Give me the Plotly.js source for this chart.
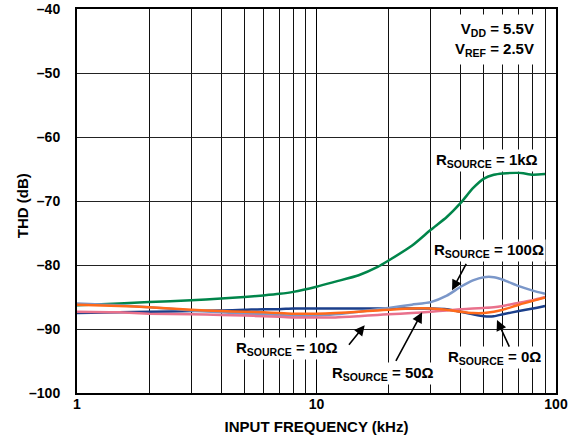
<!DOCTYPE html>
<html>
<head>
<meta charset="utf-8">
<script src="https://cdn.plot.ly/plotly-3.0.1.min.js"></script>
<style>html,body{margin:0;padding:0;background:#fff}#chart{width:577px;height:438px}</style>
</head>
<body>
<div id="chart"></div>
<script>
// Frequencies (kHz)
const freq = [1, 1.5, 2, 3, 4, 5, 6, 7, 8, 10, 12, 15, 18, 20, 25, 30, 35, 40, 45, 50, 55, 60, 70, 80, 90];
// THD (dB) for each source resistance
const thd1k   = [-86.3, -86.0, -85.8, -85.5, -85.25, -85.0, -84.75, -84.5, -84.2, -83.4, -82.6, -81.6, -80.3, -79.3, -77.0, -74.5, -72.5, -70.3, -68.0, -66.5, -65.9, -65.7, -65.6, -65.9, -65.8];
const thd100  = [-86.0, -86.3, -86.6, -87.1, -87.4, -87.6, -87.7, -87.8, -87.9, -87.9, -87.7, -87.3, -86.9, -86.7, -86.2, -85.8, -84.8, -83.4, -82.4, -81.9, -81.9, -82.3, -83.3, -84.0, -84.5];
const thd50   = [-86.2, -86.4, -86.6, -87.0, -87.2, -87.3, -87.4, -87.5, -87.6, -87.6, -87.5, -87.3, -87.1, -87.0, -86.8, -86.8, -87.0, -87.3, -87.5, -87.5, -87.3, -87.0, -86.2, -85.6, -85.1];
const thd10   = [-87.3, -87.4, -87.6, -87.7, -87.8, -87.9, -88.0, -88.1, -88.2, -88.2, -88.2, -88.0, -87.8, -87.7, -87.5, -87.3, -87.1, -86.9, -86.8, -86.7, -86.6, -86.4, -85.9, -85.5, -85.0];
const thd0    = [-87.5, -87.4, -87.3, -87.2, -87.1, -87.0, -86.9, -86.9, -86.8, -86.8, -86.8, -86.8, -86.8, -86.8, -86.8, -86.8, -86.9, -87.3, -87.7, -88.0, -88.0, -87.7, -87.2, -86.8, -86.4];

const xTickVals = [1, 10, 100];
const xTickText = ['1', '10', '100'];
const xMinorVals = [2, 3, 4, 5, 6, 7, 8, 9, 20, 30, 40, 50, 60, 70, 80, 90];
const yTickVals = [-100, -90, -80, -70, -60, -50, -40];
const yTickText = ['–100', '–90', '–80', '–70', '–60', '–50', '–40'];

const FONT = 'Liberation Sans, Arial, Helvetica, sans-serif';

function tr(y, color) {
  return {x: freq, y: y, type: 'scatter', mode: 'lines',
    line: {color: color, width: 2.5, shape: 'spline', smoothing: 0.6}, hoverinfo: 'skip'};
}

const data = [
  tr(thd1k, '#00854A'),
  tr(thd0, '#1B3F8B'),
  tr(thd100, '#7B97C9'),
  tr(thd10, '#E9718C'),
  tr(thd50, '#FF6A1A')
];

const lbl = {family: FONT, size: 15, color: '#000', weight: 'bold'};
function textAnn(x, y, text, extra) {
  return Object.assign({x: Math.log10(x), y: y, xref: 'x', yref: 'y', text: text,
    showarrow: false, font: lbl, bgcolor: '#fff', borderpad: 1}, extra || {});
}
function arrowAnn(x, y, ax, ay) {
  return {x: Math.log10(x), y: y, xref: 'x', yref: 'y', text: '', showarrow: true,
    ax: ax, ay: ay, arrowhead: 2, arrowsize: 1.3, arrowwidth: 1.6, arrowcolor: '#000', standoff: 0};
}

const layout = {
  width: 577, height: 438,
  margin: {l: 77, r: 21, t: 9, b: 45},
  paper_bgcolor: '#fff', plot_bgcolor: '#fff',
  showlegend: false,
  font: {family: FONT, size: 14, color: '#000', weight: 'bold'},
  xaxis: {
    type: 'log', range: [0, 2],
    tickmode: 'array', tickvals: xTickVals, ticktext: xTickText,
    ticks: '', ticklabelstandoff: -3,
    showgrid: true, gridcolor: '#000', gridwidth: 1.5,
    minor: {tickmode: 'array', tickvals: xMinorVals, showgrid: true, gridcolor: '#111', gridwidth: 1, ticks: ''},
    showline: true, mirror: true, linecolor: '#000', linewidth: 2,
    zeroline: false,
    tickfont: {family: FONT, size: 14, weight: 'bold'},
    title: {text: 'INPUT FREQUENCY (kHz)', font: {family: FONT, size: 15, weight: 'bold'}, standoff: 11}
  },
  yaxis: {
    range: [-100, -40],
    tickmode: 'array', tickvals: yTickVals, ticktext: yTickText,
    ticks: '', ticklabelstandoff: 12,
    showgrid: true, gridcolor: '#222', gridwidth: 1,
    showline: true, mirror: true, linecolor: '#000', linewidth: 2,
    zeroline: false,
    tickfont: {family: FONT, size: 14, weight: 'bold'}
  },
  annotations: [
    {text: 'THD (dB)', xref: 'paper', yref: 'paper', x: -0.115, y: 0.489, textangle: -90,
     showarrow: false, xanchor: 'center', yanchor: 'middle', font: {family: FONT, size: 15, weight: 'bold', color: '#000'}},
    textAnn(86, -44.7, 'V<sub>DD</sub> = 5.5V<br>V<sub>REF</sub> = 2.5V', {xanchor: 'right', align: 'right', borderpad: 5}),
    textAnn(51.3, -63.6, 'R<sub>SOURCE</sub> = 1kΩ'),
    textAnn(52.7, -77.7, 'R<sub>SOURCE</sub> = 100Ω'),
    textAnn(7.5, -93.0, 'R<sub>SOURCE</sub> = 10Ω'),
    textAnn(18.9, -96.9, 'R<sub>SOURCE</sub> = 50Ω'),
    textAnn(55.6, -94.4, 'R<sub>SOURCE</sub> = 0Ω'),
    arrowAnn(36.8, -83.95, 15, -28),
    arrowAnn(15.9, -89.4, -17, 21),
    arrowAnn(27.6, -87.4, -27, 50),
    arrowAnn(56.7, -88.6, 13, 28)
  ]
};

Plotly.newPlot('chart', data, layout, {staticPlot: true, displayModeBar: false});
</script>
</body>
</html>
